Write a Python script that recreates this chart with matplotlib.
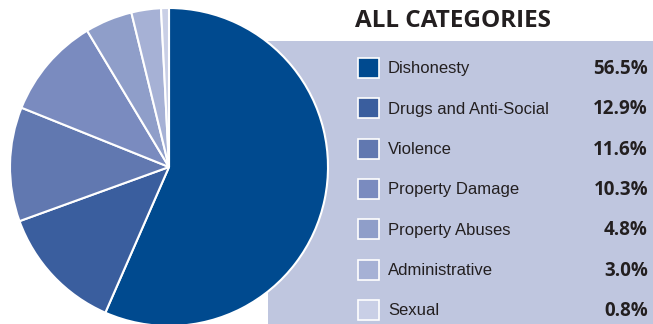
import matplotlib
matplotlib.use("Agg")
import matplotlib.pyplot as plt
from matplotlib.patches import Rectangle

categories = ["Dishonesty", "Drugs and Anti-Social", "Violence", "Property Damage",
              "Property Abuses", "Administrative", "Sexual"]
shares = [56.5, 12.9, 11.6, 10.3, 4.8, 3.0, 0.8]
colors = ["#004a8f", "#3a5e9e", "#6178b0", "#7a8bbf", "#8f9ec9", "#a6b1d5", "#c9cfe6"]

W, H = 653, 324
fig = plt.figure(figsize=(W / 100, H / 100), dpi=100)
fig.patch.set_facecolor("white")

# legend panel behind the pie
bg = fig.add_axes([0, 0, 1, 1])
bg.set_xlim(0, W)
bg.set_ylim(H, 0)
bg.axis("off")
bg.add_patch(Rectangle((268, 41), W - 268, H - 41, facecolor="#bfc6df", edgecolor="none"))

label_font = ["Liberation Sans", "DejaVu Sans"]
bold_font = ["Open Sans", "DejaVu Sans"]
bg.text(355, 21, "ALL CATEGORIES", fontsize=17.5, fontweight="bold", color="#231f20",
        va="center", ha="left", family=bold_font)

row0, step = 68, 40.3
for i, (name, val, c) in enumerate(zip(categories, shares, colors)):
    y = row0 + i * step
    bg.add_patch(Rectangle((358, y - 10), 21, 20, facecolor=c, edgecolor="white", linewidth=1.2))
    bg.text(388, y + 1, name, fontsize=12, color="#231f20", va="center", ha="left",
            family=label_font)
    bg.text(648, y + 1, f"{val:.1f}%", fontsize=13.5, fontweight="bold", color="#231f20",
            va="center", ha="right", family=bold_font)

# pie
cx, cy, r = 169, 167, 159
ax = fig.add_axes([(cx - r) / W, 1 - (cy + r) / H, 2 * r / W, 2 * r / H])
ax.pie(shares, colors=colors, startangle=90, counterclock=False, radius=1,
       wedgeprops=dict(edgecolor="white", linewidth=1.5))
ax.set_xlim(-1, 1)
ax.set_ylim(-1, 1)
ax.set_aspect("equal")
ax.axis("off")

fig.savefig("out.png", dpi=100)
